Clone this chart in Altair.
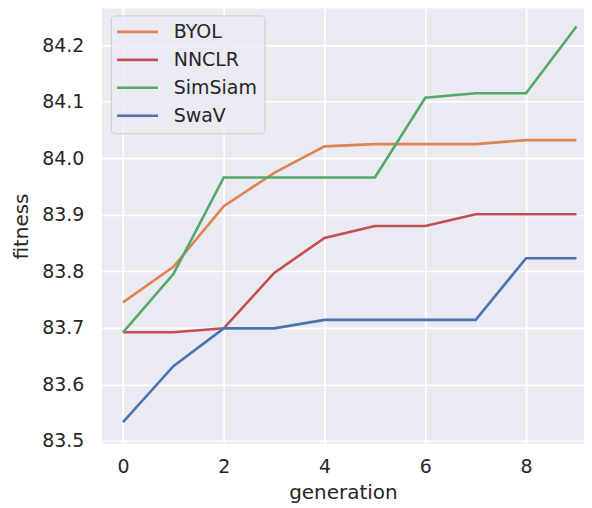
import altair as alt
import pandas as pd

generations = list(range(10))
byol = [83.745, 83.808, 83.915, 83.974, 84.021, 84.025, 84.025, 84.025, 84.032, 84.032]
nnclr = [83.692, 83.692, 83.699, 83.797, 83.859, 83.880, 83.880, 83.901, 83.901, 83.901]
simsiam = [83.692, 83.795, 83.966, 83.966, 83.966, 83.966, 84.107, 84.115, 84.115, 84.233]
swav = [83.533, 83.632, 83.699, 83.699, 83.714, 83.714, 83.714, 83.714, 83.823, 83.823]

methods = ["BYOL", "NNCLR", "SimSiam", "SwaV"]
colors = ["#dd8452", "#c44e52", "#55a868", "#4c72b0"]
series = [byol, nnclr, simsiam, swav]

rows = []
for m, vals in zip(methods, series):
    for g, v in zip(generations, vals):
        rows.append({"generation": g, "fitness": v, "method": m})
df = pd.DataFrame(rows)

font = "DejaVu Sans"

chart = alt.Chart(df).mark_line(strokeWidth=2.6).encode(
    x=alt.X("generation:Q", title="generation",
            scale=alt.Scale(domain=[-0.42, 9.15], nice=False, zero=False),
            axis=alt.Axis(values=[0, 2, 4, 6, 8], format="d")),
    y=alt.Y("fitness:Q", title="fitness",
            scale=alt.Scale(domain=[83.495, 84.265], nice=False, zero=False),
            axis=alt.Axis(values=[83.5, 83.6, 83.7, 83.8, 83.9, 84.0, 84.1, 84.2], format=".1f")),
    color=alt.Color("method:N", title=None,
                    scale=alt.Scale(domain=methods, range=colors),
                    legend=alt.Legend(orient="none", legendX=9, legendY=7,
                                      symbolType="M-2,0H6", symbolSize=105,
                                      symbolStrokeWidth=2.6,
                                      labelFontSize=19, labelFont=font,
                                      labelColor="#262626", labelOffset=37,
                                      rowPadding=8, padding=7,
                                      fillColor="rgba(234,234,242,0.8)",
                                      strokeColor="#cccccc", cornerRadius=4)),
).properties(
    width=483, height=436,
    padding={"left": 3, "top": 0, "right": 0, "bottom": 0},
).configure_view(
    fill="#eaeaf2", stroke=None
).configure_axis(
    grid=True, gridColor="white", gridWidth=1.6,
    domain=False, ticks=False,
    labelFont=font, labelFontSize=19, labelColor="#262626",
    titleFont=font, titleFontSize=20, titleColor="#262626", titleFontWeight="normal",
).configure_axisY(
    labelPadding=18, titlePadding=10
).configure_axisX(
    labelPadding=14, titlePadding=6
)

chart.save("out.html", embed_options={"renderer": "svg", "actions": False})
